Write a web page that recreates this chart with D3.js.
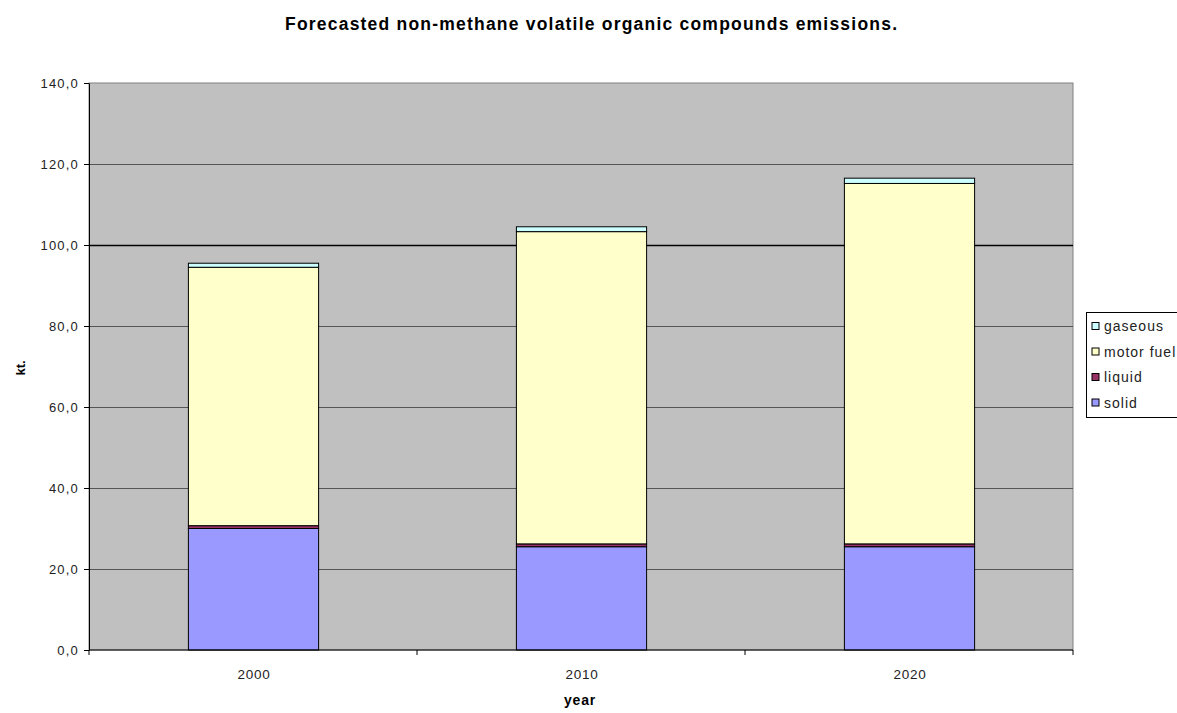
<!DOCTYPE html>
<html>
<head>
<meta charset="utf-8">
<script src="https://cdn.jsdelivr.net/npm/d3@7"></script>
<style>
  html, body { margin: 0; padding: 0; background: #fff; }
  svg { display: block; font-family: "Liberation Sans", Arial, sans-serif; }
</style>
</head>
<body>
<svg id="chart" width="1177" height="713"></svg>
<script>
// Forecast years and emission components (kt.)
const years = ["2000", "2010", "2020"];
const seriesNames = ["solid", "liquid", "motor fuel", "gaseous"];
const solid = [30.0, 25.5, 25.5];
const liquid = [0.7, 0.7, 0.7];
const motorFuel = [63.8, 77.1, 89.0];
const gaseous = [1.0, 1.2, 1.3];
const yTicks = [0, 20, 40, 60, 80, 100, 120, 140];
const colors = { "solid": "#9999ff", "liquid": "#993366", "motor fuel": "#ffffcc", "gaseous": "#ccffff" };

const rows = years.map((y, i) => ({
  year: y, "solid": solid[i], "liquid": liquid[i], "motor fuel": motorFuel[i], "gaseous": gaseous[i]
}));

const svg = d3.select("#chart");
const plot = { left: 89, right: 1073, top: 83, bottom: 650 };

const x = d3.scaleBand().domain(years).range([plot.left, plot.right]).paddingInner(0.6).paddingOuter(0.3);
const xCat = d3.scaleBand().domain(years).range([plot.left, plot.right]);
const y = d3.scaleLinear().domain([0, 140]).range([plot.bottom, plot.top]);

// Plot background
svg.append("rect")
  .attr("x", plot.left).attr("y", plot.top)
  .attr("width", plot.right - plot.left).attr("height", plot.bottom - plot.top)
  .attr("fill", "#c0c0c0").attr("stroke", "#808080").attr("stroke-width", 1);

// Horizontal gridlines
svg.append("g").selectAll("line").data(yTicks.filter(d => d > 0 && d < 140)).join("line")
  .attr("x1", plot.left).attr("x2", plot.right)
  .attr("y1", d => Math.round(y(d)) + 0.5).attr("y2", d => Math.round(y(d)) + 0.5)
  .attr("stroke", d => d === 100 ? "#000" : "#555")
  .attr("stroke-width", d => d === 100 ? 1.5 : 1);

// Stacked bars
const stack = d3.stack().keys(seriesNames)(rows);
svg.append("g").selectAll("g").data(stack).join("g")
  .attr("fill", d => colors[d.key])
  .selectAll("rect").data(d => d).join("rect")
  .attr("x", d => x(d.data.year) + 1)
  .attr("width", x.bandwidth() - 1)
  .attr("y", d => y(d[1]))
  .attr("height", d => y(d[0]) - y(d[1]))
  .attr("stroke", "#000").attr("stroke-width", 1);

// Y axis
const yAxis = d3.axisLeft(y).tickValues(yTicks).tickSize(5).tickSizeOuter(0)
  .tickFormat(d => d3.format(".1f")(d).replace(".", ","));
const gy = svg.append("g").attr("transform", `translate(${plot.left},0)`).call(yAxis);
gy.select(".domain").attr("stroke", "#000");
gy.selectAll(".tick line").attr("stroke", "#000");
gy.selectAll(".tick text").attr("font-size", 13).attr("letter-spacing", 1.2)
  .attr("fill", "#222").attr("x", -10);

// X axis with ticks at category boundaries
const gx = svg.append("g").attr("transform", `translate(0,${plot.bottom})`);
gx.append("line").attr("x1", plot.left).attr("x2", plot.right).attr("stroke", "#000");
gx.selectAll("line.bound").data(years.concat(["end"])).join("line").attr("class", "bound")
  .attr("x1", (d, i) => i < years.length ? xCat(d) : plot.right)
  .attr("x2", (d, i) => i < years.length ? xCat(d) : plot.right)
  .attr("y1", 0).attr("y2", 5).attr("stroke", "#000");
gx.selectAll("text").data(years).join("text")
  .attr("x", d => xCat(d) + xCat.bandwidth() / 2 + 1)
  .attr("y", 29).attr("text-anchor", "middle").attr("font-size", 13.5)
  .attr("letter-spacing", 0.8).attr("fill", "#222").text(d => d);

// Title and axis titles
svg.append("text").attr("x", 591).attr("y", 30).attr("text-anchor", "middle")
  .attr("font-size", 17.5).attr("font-weight", "bold")
  .attr("textLength", 612).attr("lengthAdjust", "spacing")
  .text("Forecasted non-methane volatile organic compounds emissions.");
svg.append("text").attr("x", 580).attr("y", 705).attr("text-anchor", "middle")
  .attr("font-size", 14).attr("font-weight", "bold").attr("letter-spacing", 0.8).text("year");
svg.append("text").attr("transform", "translate(25,368) rotate(-90)").attr("text-anchor", "middle")
  .attr("font-size", 13).attr("font-weight", "bold").text("kt.");

// Legend (top entry is the top of the stack)
const legend = svg.append("g").attr("transform", "translate(1086,312)");
legend.append("rect").attr("x", 0.5).attr("y", 0.5).attr("width", 110).attr("height", 105)
  .attr("fill", "#fff").attr("stroke", "#000");
const legendItems = seriesNames.slice().reverse();
const li = legend.selectAll("g.item").data(legendItems).join("g").attr("class", "item")
  .attr("transform", (d, i) => `translate(6,${14 + i * 25.5})`);
li.append("rect").attr("x", 0).attr("y", -3.5).attr("width", 7).attr("height", 7)
  .attr("fill", d => colors[d]).attr("stroke", "#000");
li.append("text").attr("x", 12).attr("y", 5).attr("font-size", 14)
  .attr("letter-spacing", 1).attr("fill", "#222").text(d => d);
</script>
</body>
</html>
